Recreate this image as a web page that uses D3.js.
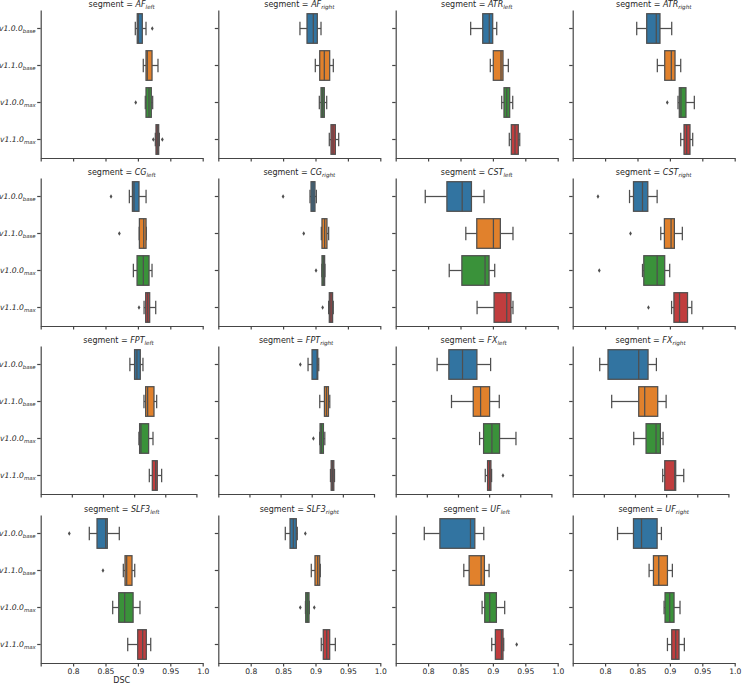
<!DOCTYPE html>
<html>
<head>
<meta charset="utf-8">
<script src="https://cdn.jsdelivr.net/npm/d3@7"></script>
<style>
  body { margin: 0; background: #ffffff; }
  svg { display: block; }
  text { font-family: "DejaVu Sans", sans-serif; fill: #262626; }
</style>
</head>
<body>
<svg width="742" height="684"></svg>
<script>
// segments (facets), left to right, top to bottom
var segmentNames = ['AF', 'AF', 'ATR', 'ATR', 'CG', 'CG', 'CST', 'CST',
                    'FPT', 'FPT', 'FX', 'FX', 'SLF3', 'SLF3', 'UF', 'UF']
var segmentSides = ['left', 'right', 'left', 'right', 'left', 'right', 'left', 'right',
                    'left', 'right', 'left', 'right', 'left', 'right', 'left', 'right']

// model versions (y categories)
var versionNames = ['v1.0.0', 'v1.1.0', 'v1.0.0', 'v1.1.0']
var versionSubs = ['base', 'base', 'max', 'max']

var xTicks = [0.75, 0.8, 0.85, 0.9, 0.95, 1.0]

// box statistics, one row per segment, one value per version
var whiskerLow = [
  [0.896, 0.9083, 0.9114, 0.9269], [0.876, 0.8997, 0.9059, 0.9213],
  [0.8657, 0.896, 0.9136, 0.9253], [0.8488, 0.8806, 0.9125, 0.9167],
  [0.8868, 0.902, 0.893, 0.9095], [0.8915, 0.909, 0.9098, 0.9203],
  [0.7956, 0.8582, 0.8326, 0.8756], [0.8377, 0.8859, 0.8577, 0.9026],
  [0.8932, 0.9158, 0.9077, 0.9244], [0.8941, 0.9129, 0.9129, 0.9301],
  [0.8165, 0.8396, 0.8847, 0.8938], [0.7934, 0.8126, 0.848, 0.8945],
  [0.825, 0.8775, 0.8611, 0.8843], [0.8534, 0.8935, 0.8845, 0.9089],
  [0.7941, 0.8551, 0.8833, 0.8982], [0.8192, 0.8679, 0.891, 0.8962]
]
var q1 = [
  [0.899, 0.9125, 0.9125, 0.9279], [0.8869, 0.9065, 0.9085, 0.9239],
  [0.8843, 0.9006, 0.9171, 0.9284], [0.8642, 0.892, 0.9145, 0.9218],
  [0.8915, 0.9023, 0.8987, 0.912], [0.8931, 0.91, 0.91, 0.9213],
  [0.829, 0.8751, 0.8521, 0.9018], [0.8438, 0.8915, 0.8597, 0.9062],
  [0.9007, 0.9185, 0.9088, 0.9292], [0.9005, 0.9204, 0.9134, 0.9312],
  [0.8353, 0.8745, 0.8911, 0.8975], [0.8067, 0.856, 0.8678, 0.8978],
  [0.8369, 0.8801, 0.8704, 0.8997], [0.8607, 0.8992, 0.8849, 0.912],
  [0.8182, 0.8633, 0.8874, 0.9038], [0.8438, 0.8746, 0.8925, 0.9028]
]
var median = [
  [0.9006, 0.9145, 0.9171, 0.93], [0.8966, 0.9136, 0.9111, 0.927],
  [0.8944, 0.9125, 0.9213, 0.9341], [0.879, 0.9022, 0.9171, 0.9259],
  [0.894, 0.909, 0.9084, 0.9151], [0.8962, 0.9141, 0.912, 0.9238],
  [0.8526, 0.9008, 0.8879, 0.9213], [0.8577, 0.9018, 0.8803, 0.9149],
  [0.9045, 0.9217, 0.911, 0.9345], [0.9086, 0.9237, 0.9156, 0.9333],
  [0.8573, 0.8863, 0.9045, 0.9007], [0.856, 0.8656, 0.8838, 0.9138],
  [0.8503, 0.8827, 0.8796, 0.9074], [0.8657, 0.9034, 0.8873, 0.9173],
  [0.8654, 0.8818, 0.8951, 0.9131], [0.8562, 0.8828, 0.8997, 0.909]
]
var q3 = [
  [0.9068, 0.9218, 0.9207, 0.9321], [0.9028, 0.9219, 0.9136, 0.9306],
  [0.8997, 0.9156, 0.9259, 0.9392], [0.8847, 0.9079, 0.9248, 0.931],
  [0.9017, 0.9126, 0.9172, 0.9182], [0.8992, 0.9177, 0.9141, 0.9264],
  [0.8669, 0.9115, 0.8941, 0.9279], [0.8659, 0.9069, 0.892, 0.9272],
  [0.9099, 0.9319, 0.9233, 0.9372], [0.9097, 0.9269, 0.9188, 0.9355],
  [0.8804, 0.9008, 0.9168, 0.9029], [0.871, 0.8865, 0.8908, 0.9154],
  [0.8528, 0.8909, 0.8926, 0.913], [0.8704, 0.9065, 0.89, 0.9219],
  [0.8721, 0.8869, 0.9054, 0.9156], [0.8803, 0.8962, 0.9064, 0.9141]
]
var whiskerHigh = [
  [0.9125, 0.931, 0.9228, 0.9331], [0.9085, 0.9275, 0.9173, 0.9358],
  [0.9059, 0.9238, 0.9306, 0.9414], [0.9028, 0.9167, 0.9377, 0.9352],
  [0.9126, 0.913, 0.9218, 0.9275], [0.9013, 0.9203, 0.9146, 0.9274],
  [0.8864, 0.931, 0.9028, 0.931], [0.8803, 0.9192, 0.8997, 0.9338],
  [0.9142, 0.9362, 0.9303, 0.9442], [0.9113, 0.929, 0.921, 0.9366],
  [0.9024, 0.9163, 0.9431, 0.904], [0.8844, 0.9, 0.8951, 0.9283],
  [0.8713, 0.8951, 0.9032, 0.9198], [0.8719, 0.9074, 0.8904, 0.9306],
  [0.8859, 0.8941, 0.9182, 0.9167], [0.8869, 0.9038, 0.9156, 0.9223]
]
var outliers = [
  [[0.9222], [], [0.8966], [0.9238, 0.9377]], [[], [], [], []],
  [[], [], [], []], [[], [], [0.896], []],
  [[0.8585], [0.8714], [], [0.9017]], [[0.85], [0.8818], [0.9008], [0.911]],
  [[], [], [], []], [[0.789], [0.8392], [0.791], [0.8669]],
  [[], [], [], []], [[0.8817], [], [0.9027], []],
  [[], [], [], [0.9222]], [[], [], [], []],
  [[0.7941], [0.8461], [], []], [[0.8843], [], [0.8765, 0.8981], []],
  [[], [], [], [0.9367]], [[], [], [], []]
]

var colors = ['#3274a1', '#e1812c', '#3a923a', '#c03d3e']
var lineColor = '#4f4f4f'

// layout
var colX = [40.7, 218.3, 395.7, 572.7]
var rowTop = [10, 178, 346, 515]
var rowWidth = [162, 162, 155.7, 162]
var panelH = 148

var svg = d3.select('svg')

for (var s = 0; s < 16; s++) {
  var row = Math.floor(s / 4), col = s % 4
  var w = rowWidth[row]

  var x = d3.scaleLinear().domain([0.75, 1.0]).range([0, w])
  var y = d3.scaleBand().domain(d3.range(4)).range([0, panelH])
  var bw = y.bandwidth()

  var g = svg.append('g')
    .attr('transform', 'translate(' + colX[col] + ',' + rowTop[row] + ')')

  // title
  var title = g.append('text')
    .attr('x', w / 2)
    .attr('y', -2.6)
    .attr('text-anchor', 'middle')
    .style('font-size', '8px')
  title.append('tspan').text('segment = ')
  title.append('tspan').style('font-style', 'italic').text(segmentNames[s])
  title.append('tspan').style('font-style', 'italic').style('font-size', '5.6px')
    .attr('dy', 1.8).text(segmentSides[s])

  // axes
  var yAxis = d3.axisLeft(y).tickSize(3.5).tickSizeOuter(0).tickPadding(2).tickFormat('')
  var gy = g.append('g').call(yAxis)
  var xAxis = d3.axisBottom(x).tickValues(xTicks).tickSize(3.5).tickSizeOuter(0).tickPadding(2)
    .tickFormat(function(d) {
      if (row < 3 || d === 0.75) return ''
      return d === 1 ? '1.0' : String(d)
    })
  var gx = g.append('g').attr('transform', 'translate(0,' + panelH + ')').call(xAxis)

  svg.selectAll('.domain, .tick line').attr('stroke', '#454545').attr('stroke-width', 1.2)
  gx.selectAll('text').style('font-size', '7.6px').attr('fill', '#262626')

  if (col === 0) {
    gy.selectAll('.tick').each(function(d) {
      var t = d3.select(this).append('text')
        .attr('x', -5)
        .attr('dy', '0.32em')
        .attr('text-anchor', 'end')
        .style('font-size', '7.6px')
        .style('font-style', 'italic')
        .attr('fill', '#262626')
      t.append('tspan').text(versionNames[d])
      t.append('tspan').style('font-size', '5.4px').attr('dy', 1.8).text(versionSubs[d])
    })
  }

  // boxes
  for (var v = 0; v < 4; v++) {
    var cy = y(v) + bw / 2
    var bh = bw * 0.8
    var cap = bh * 0.45
    var bg = g.append('g')

    bg.append('line')
      .attr('x1', x(whiskerLow[s][v])).attr('x2', x(q1[s][v]))
      .attr('y1', cy).attr('y2', cy)
    bg.append('line')
      .attr('x1', x(q3[s][v])).attr('x2', x(whiskerHigh[s][v]))
      .attr('y1', cy).attr('y2', cy)
    bg.append('line')
      .attr('x1', x(whiskerLow[s][v])).attr('x2', x(whiskerLow[s][v]))
      .attr('y1', cy - cap / 2).attr('y2', cy + cap / 2)
    bg.append('line')
      .attr('x1', x(whiskerHigh[s][v])).attr('x2', x(whiskerHigh[s][v]))
      .attr('y1', cy - cap / 2).attr('y2', cy + cap / 2)
    bg.selectAll('line').attr('stroke', lineColor).attr('stroke-width', 1.25)

    bg.append('rect')
      .attr('x', x(q1[s][v]))
      .attr('y', cy - bh / 2)
      .attr('width', x(q3[s][v]) - x(q1[s][v]))
      .attr('height', bh)
      .attr('fill', colors[v])
      .attr('stroke', lineColor)
      .attr('stroke-width', 1.25)

    bg.append('line')
      .attr('x1', x(median[s][v])).attr('x2', x(median[s][v]))
      .attr('y1', cy - bh / 2).attr('y2', cy + bh / 2)
      .attr('stroke', lineColor).attr('stroke-width', 1.25)

    // fliers, thin diamonds
    bg.selectAll('path.flier')
      .data(outliers[s][v])
      .enter()
      .append('path')
      .attr('class', 'flier')
      .attr('d', function(d) {
        var px = x(d)
        return 'M' + px + ',' + (cy - 2.3) + 'L' + (px + 1.4) + ',' + cy +
               'L' + px + ',' + (cy + 2.3) + 'L' + (px - 1.4) + ',' + cy + 'Z'
      })
      .attr('fill', lineColor)
  }

  if (s === 12) {
    g.append('text')
      .attr('x', w / 2)
      .attr('y', panelH + 19.5)
      .attr('text-anchor', 'middle')
      .style('font-size', '8px')
      .text('DSC')
  }
}
</script>
</body>
</html>
